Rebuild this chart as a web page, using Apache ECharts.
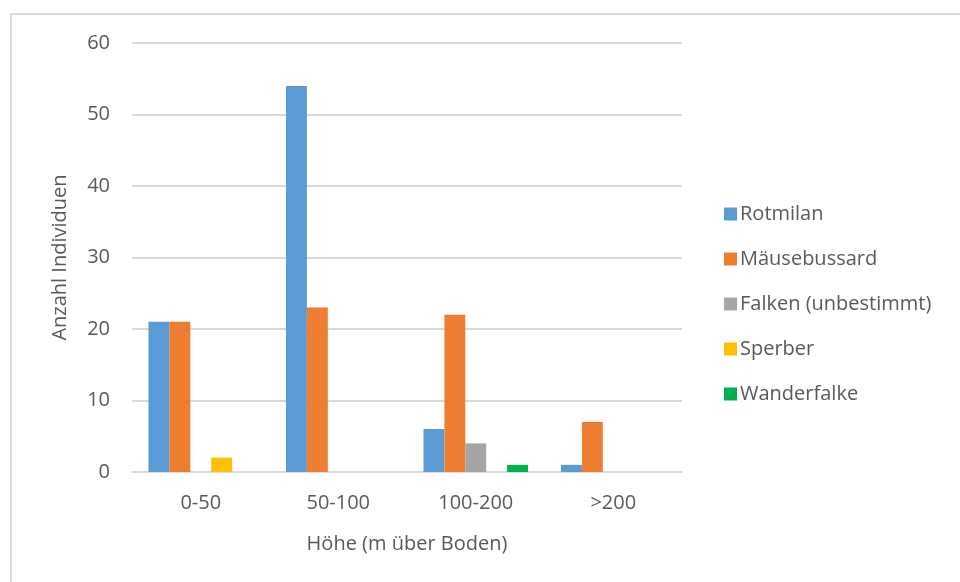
<!DOCTYPE html>
<html><head><meta charset="utf-8">
<script src="https://cdn.jsdelivr.net/npm/echarts@6/dist/echarts.min.js"></script>
<style>html,body{margin:0;padding:0;background:#fff}#frame{position:absolute;left:10px;top:13px;width:960px;height:600px;border:2px solid #d9d9d9;box-sizing:border-box}#c{position:absolute;left:0;top:0;width:960px;height:582px}</style>
</head><body><div id="frame"></div><div id="c"></div>
<script>
const categories = ['0-50', '50-100', '100-200', '>200'];
const rotmilan = [21, 54, 6, 1];
const maeusebussard = [21, 23, 22, 7];
const falken = [0, 0, 4, 0];
const sperber = [2, 0, 0, 0];
const wanderfalke = [0, 0, 1, 0];
const seriesNames = ['Rotmilan', 'Mäusebussard', 'Falken (unbestimmt)', 'Sperber', 'Wanderfalke'];
const seriesData = [rotmilan, maeusebussard, falken, sperber, wanderfalke];
const colors = ['#5B9BD5', '#ED7D31', '#A5A5A5', '#FFC000', '#00B050'];
const yTicks = [0, 10, 20, 30, 40, 50, 60];

const font = 'Open Sans';
const txt = '#595959';
const fs = 20;
const chart = echarts.init(document.getElementById('c'));
chart.setOption({
  animation: false,
  color: colors,
  grid: { left: 132, right: 278, top: 43, bottom: 110, containLabel: false },
  legend: {
    orient: 'vertical', left: 719, top: 199, itemWidth: 13, itemHeight: 13, itemGap: 25,
    icon: 'rect',
    textStyle: { fontFamily: font, fontSize: fs, color: txt, padding: [0, 0, 0, -2] },
    data: seriesNames
  },
  xAxis: {
    type: 'category', data: categories,
    name: 'Höhe (m über Boden)', nameLocation: 'middle', nameGap: 62,
    nameTextStyle: { fontFamily: font, fontSize: fs, color: txt },
    axisLine: { lineStyle: { color: '#d9d9d9', width: 2 } },
    axisTick: { show: false },
    axisLabel: { fontFamily: font, fontSize: fs, color: txt, margin: 21 }
  },
  yAxis: {
    type: 'value', min: yTicks[0], max: yTicks[yTicks.length - 1], interval: 10,
    name: 'Anzahl Individuen', nameLocation: 'middle', nameGap: 62,
    nameTextStyle: { fontFamily: font, fontSize: fs, color: txt },
    axisLine: { show: false }, axisTick: { show: false },
    axisLabel: { fontFamily: font, fontSize: fs, color: txt, margin: 22 },
    splitLine: { lineStyle: { color: '#d9d9d9', width: 2 } }
  },
  series: seriesData.map((d, i) => ({
    name: seriesNames[i], type: 'bar', data: d,
    barGap: '0%', barCategoryGap: '24%'
  }))
});
</script></body></html>
